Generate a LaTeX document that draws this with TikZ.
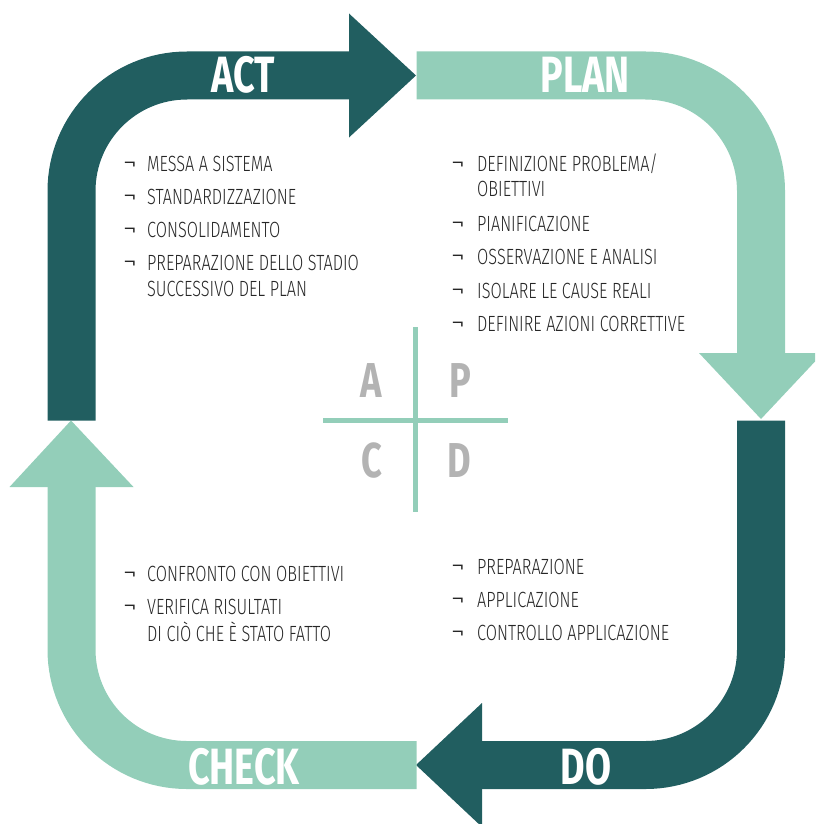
\documentclass[tikz,border=0pt]{standalone}
\usepackage{fontspec}
\newfontfamily\labelfont{Fira Sans}[FakeStretch=0.74]
\newfontfamily\bodyfont{Fira Sans Light}[FakeStretch=0.74]
\newfontfamily\bulfont{Fira Sans Light}
\definecolor{darkteal}{HTML}{215E60}
\definecolor{mint}{HTML}{93CEB9}
\definecolor{txt}{HTML}{262626}
\definecolor{greyl}{HTML}{B3B3B3}
\begin{document}
\begin{tikzpicture}[x=1pt,y=-1pt,
  band/.style={line width=48pt, line cap=butt, rounded corners=115.5pt},
  big/.style={font=\labelfont\bfseries\fontsize{51}{51}\selectfont, text=white, inner sep=0pt, anchor=base},
  quad/.style={font=\labelfont\bfseries\fontsize{49}{49}\selectfont, text=greyl, inner sep=0pt, anchor=base},
  item/.style={font=\bodyfont\fontsize{22}{22}\selectfont, text=txt, inner sep=0pt, anchor=base west},
  bul/.style={font=\bulfont\fontsize{27}{27}\selectfont, text=txt, inner sep=0pt, anchor=base west},
  cross/.style={draw=mint, line width=5pt}
]
\useasboundingbox (0,0) rectangle (815,824);
\clip (0,0) rectangle (815,824);

% ACT arrow (dark)
\draw[band, darkteal] (71.5,420.5) -- (71.5,75.5) -- (349,75.5);
\fill[darkteal] (349,13.5) -- (416,75.5) -- (349,137.5) -- cycle;
% PLAN arrow (light)
\draw[band, mint] (416.5,75.5) -- (761,75.5) -- (761,353);
\fill[mint] (699,353) -- (761,419) -- (823,353) -- cycle;
% DO arrow (dark)
\draw[band, darkteal] (761,420.5) -- (761,765) -- (482,765);
\fill[darkteal] (482,703) -- (416,765) -- (482,827) -- cycle;
% CHECK arrow (light)
\draw[band, mint] (416.5,765) -- (71.5,765) -- (71.5,487);
\fill[mint] (9.5,487) -- (71,420.5) -- (133.5,487) -- cycle;

% big labels
\node[big] (act) at (243,93) {ACT};
\node[big] (plan) at (585,93) {PLAN};
\node[big] (do) at (586,784) {DO};
\node[big] (check) at (244,784) {CHECK};

% center cross
\coordinate (vt) at (415.7,327);
\coordinate (vb) at (415.7,512);
\coordinate (hl) at (323,420);
\coordinate (hr) at (508,420);
\draw[cross] (vt) -- (vb);
\draw[cross] (hl) -- (hr);
\node[quad] (qa) at (371,397) {A};
\node[quad] (qp) at (460,397) {P};
\node[quad] (qc) at (372,477) {C};
\node[quad] (qd) at (459,477) {D};

% ACT list
\node[bul] (ab1) at (123,171) {¬};
\node[item] (a1) at (147,171) {MESSA A SISTEMA};
\node[bul] (ab2) at (123,204) {¬};
\node[item] (a2) at (147,204) {STANDARDIZZAZIONE};
\node[bul] (ab3) at (123,237) {¬};
\node[item] (a3) at (147,237) {CONSOLIDAMENTO};
\node[bul] (ab4) at (123,270) {¬};
\node[item] (a4) at (147,270) {PREPARAZIONE DELLO STADIO};
\node[item] (a5) at (147,296) {SUCCESSIVO DEL PLAN};

% PLAN list
\node[bul] (pb1) at (451,171) {¬};
\node[item] (p1) at (477,171) {DEFINIZIONE PROBLEMA/};
\node[item] (p2) at (477,196) {OBIETTIVI};
\node[bul] (pb3) at (451,231) {¬};
\node[item] (p3) at (477,231) {PIANIFICAZIONE};
\node[bul] (pb4) at (451,264.5) {¬};
\node[item] (p4) at (477,264.5) {OSSERVAZIONE E ANALISI};
\node[bul] (pb5) at (451,298) {¬};
\node[item] (p5) at (477,298) {ISOLARE LE CAUSE REALI};
\node[bul] (pb6) at (451,331) {¬};
\node[item] (p6) at (477,331) {DEFINIRE AZIONI CORRETTIVE};

% CHECK list
\node[bul] (cb1) at (123,581) {¬};
\node[item] (c1) at (147,581) {CONFRONTO CON OBIETTIVI};
\node[bul] (cb2) at (123,614) {¬};
\node[item] (c2) at (147,614) {VERIFICA RISULTATI};
\node[item] (c3) at (147,641) {DI CIÒ CHE È STATO FATTO};

% DO list
\node[bul] (db1) at (451,574) {¬};
\node[item] (d1) at (477,574) {PREPARAZIONE};
\node[bul] (db2) at (451,607) {¬};
\node[item] (d2) at (477,607) {APPLICAZIONE};
\node[bul] (db3) at (451,640) {¬};
\node[item] (d3) at (477,640) {CONTROLLO APPLICAZIONE};
\end{tikzpicture}
\end{document}
